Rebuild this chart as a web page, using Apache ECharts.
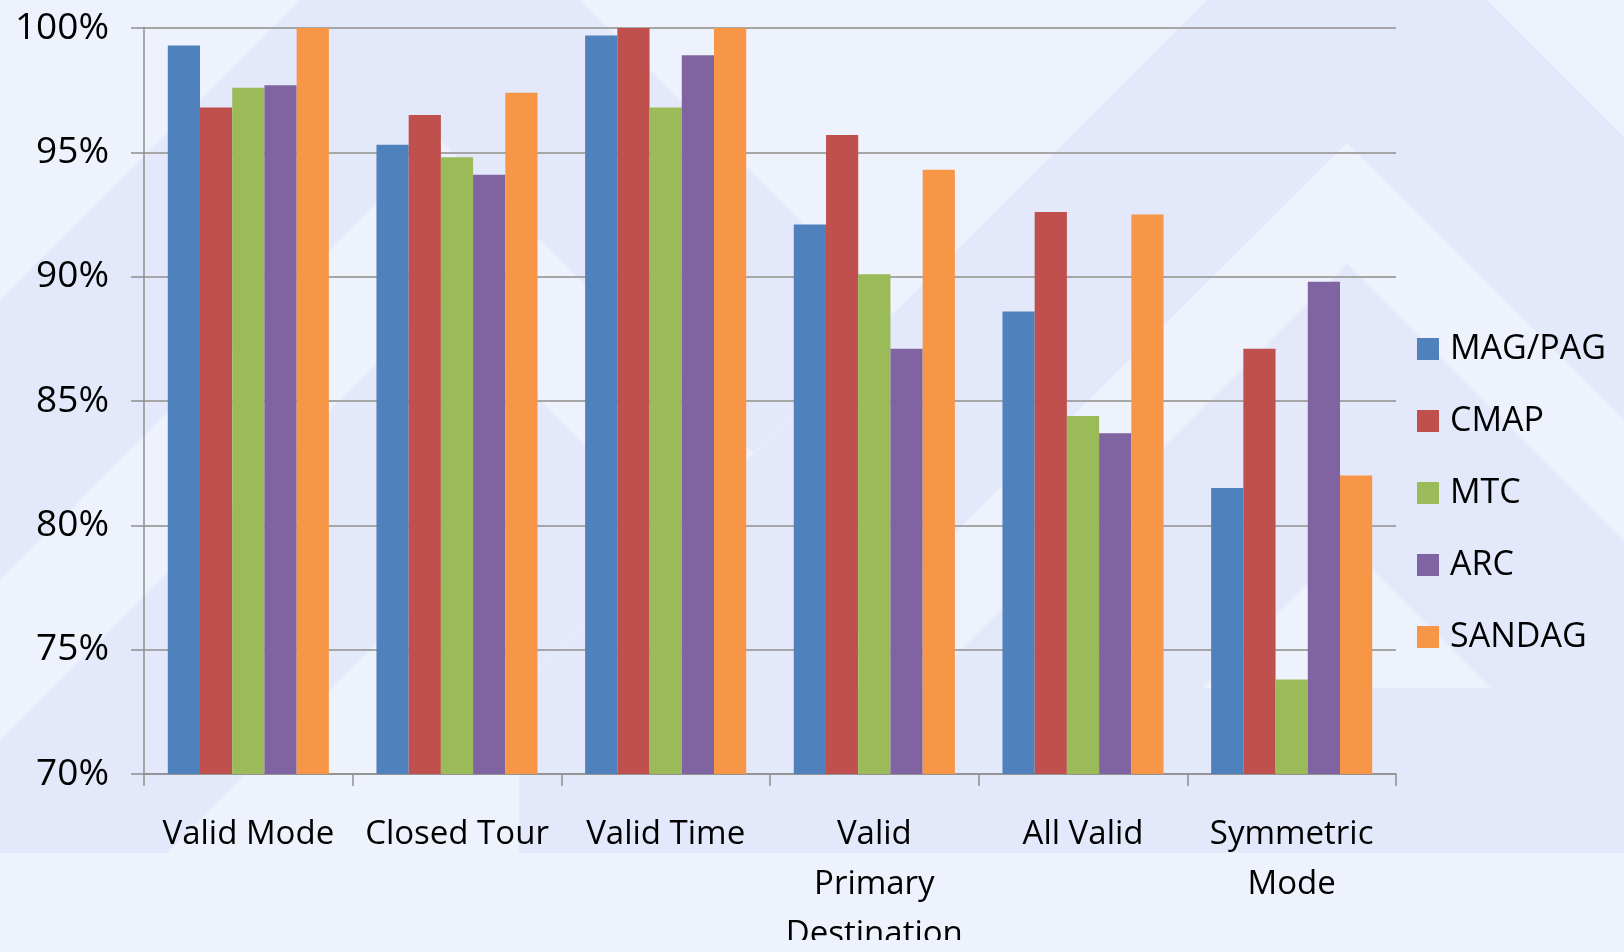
<!DOCTYPE html>
<html>
<head>
<meta charset="utf-8">
<script src="https://cdn.jsdelivr.net/npm/echarts@6/dist/echarts.min.js"></script>
<style>
  html, body { margin: 0; padding: 0; background: #EDF2FC; overflow: hidden; }
  #chart { width: 1624px; height: 940px; }
</style>
</head>
<body>
<div id="chart"></div>
<script>
// Share of records passing each check, by agency (percent)
const categories = ['Valid Mode', 'Closed Tour', 'Valid Time', 'Valid\nPrimary\nDestination', 'All Valid', 'Symmetric\nMode'];
const magPag = [99.3, 95.3, 99.7, 92.1, 88.6, 81.5];
const cmap   = [96.8, 96.5, 100.0, 95.7, 92.6, 87.1];
const mtc    = [97.6, 94.8, 96.8, 90.1, 84.4, 73.8];
const arc    = [97.7, 94.1, 98.9, 87.1, 83.7, 89.8];
const sandag = [100.0, 97.4, 100.0, 94.3, 92.5, 82.0];
const seriesNames = ['MAG/PAG', 'CMAP', 'MTC', 'ARC', 'SANDAG'];
const yMin = 70, yMax = 100, yStep = 5;

const palette = ['#4F81BD', '#C0504D', '#9BBB59', '#8064A2', '#F79646'];
const FONT = '"Open Sans", "DejaVu Sans", sans-serif';

// Decorative backdrop: pale chevron bands behind the plot
const BAND = '#E3E9FB';
const backdropShapes = [
  [[0, 300], [440, -140], [893, 313], [753, 453], [440, 140], [0, 580]],
  [[519, 688], [1347, -140], [1624, 137], [1624, 420], [1347, 143], [799, 688]],
  [[0, 740], [440, 300], [673, 533], [533, 673], [440, 580], [167, 853], [0, 853]],
  [[519, 688], [1624, 688], [1624, 853], [519, 853]],
  [[923, 688], [1347, 264], [1624, 541], [1624, 688], [1491, 688], [1347, 544], [1203, 688]]
];

const chart = echarts.init(document.getElementById('chart'), null, { renderer: 'canvas' });

const seriesData = [magPag, cmap, mtc, arc, sandag];

chart.setOption({
  animation: false,
  backgroundColor: '#EDF2FC',
  color: palette,
  graphic: backdropShapes.map(pts => ({
    type: 'polygon',
    silent: true,
    z: -10,
    shape: { points: pts.map(p => [p[0], Math.min(p[1], 853)]) },
    style: { fill: BAND }
  })),
  grid: {
    left: 144, right: 228, top: 28, bottom: 166,
    containLabel: false,
    outerBoundsMode: 'none'
  },
  legend: {
    orient: 'vertical',
    left: 1417,
    top: 332,
    padding: 0,
    itemWidth: 22,
    itemHeight: 22,
    itemGap: 38,
    icon: 'rect',
    textStyle: { fontFamily: FONT, fontSize: 34, color: '#000', lineHeight: 30, padding: [0, 0, 0, 6] },
    data: seriesNames
  },
  xAxis: {
    type: 'category',
    data: categories,
    axisLine: { show: true, lineStyle: { color: '#8F8F8F', width: 1.5 } },
    axisTick: { show: true, length: 12, lineStyle: { color: '#8F8F8F', width: 1.5 } },
    axisLabel: {
      interval: 0,
      margin: 36,
      fontFamily: FONT,
      fontSize: 33,
      lineHeight: 50,
      color: '#000'
    }
  },
  yAxis: {
    type: 'value',
    min: yMin,
    max: yMax,
    interval: yStep,
    axisLine: { show: true, lineStyle: { color: '#8F8F8F', width: 1.5 } },
    axisTick: { show: true, length: 13, lineStyle: { color: '#8F8F8F', width: 1.5 } },
    splitLine: { show: true, lineStyle: { color: '#A6A6A6', width: 2 } },
    axisLabel: {
      margin: 35,
      fontFamily: FONT,
      fontSize: 37,
      color: '#000',
      formatter: '{value}%'
    }
  },
  series: seriesNames.map((name, i) => ({
    name,
    type: 'bar',
    data: seriesData[i],
    barGap: '0%',
    barCategoryGap: '22.8%',
    itemStyle: { color: palette[i] }
  }))
});
</script>
</body>
</html>
